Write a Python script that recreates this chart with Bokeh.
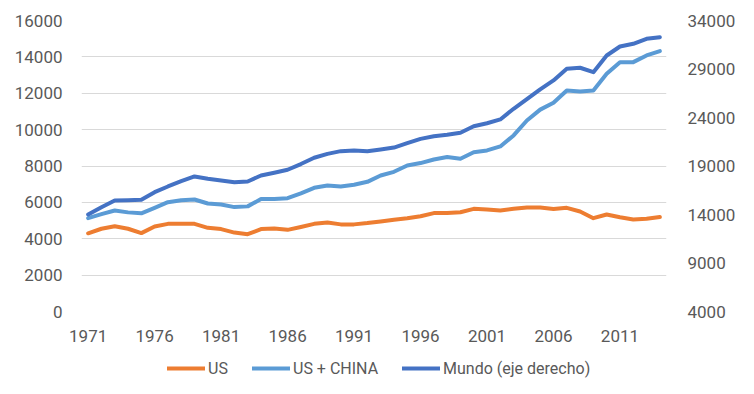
from bokeh.plotting import figure
from bokeh.layouts import column
from bokeh.models import Range1d, LinearAxis, FixedTicker, Legend, LegendItem
from bokeh.embed import file_html
from bokeh.resources import INLINE

years = list(range(1971, 2015))

us = [4300, 4550, 4690, 4550, 4310, 4670, 4820, 4820, 4820, 4600,
      4530, 4340, 4250, 4530, 4560, 4490, 4650, 4820, 4890, 4790,
      4790, 4860, 4950, 5050, 5130, 5240, 5410, 5410, 5460, 5645,
      5610, 5555, 5645, 5720, 5720, 5640, 5700, 5500, 5130, 5335,
      5180, 5060, 5100, 5190]

us_china = [5130, 5350, 5555, 5450, 5400, 5700, 6010, 6120, 6160, 5940,
            5885, 5740, 5780, 6180, 6180, 6230, 6500, 6800, 6930, 6875,
            6965, 7130, 7480, 7680, 8030, 8160, 8360, 8490, 8400, 8760,
            8855, 9075, 9680, 10500, 11100, 11480, 12155, 12100, 12155, 13070,
            13710, 13710, 14080, 14320]

mundo = [14000, 14750, 15440, 15470, 15520, 16300, 16890, 17430, 17920, 17680,
         17500, 17330, 17400, 18020, 18300, 18610, 19200, 19850, 20250, 20530,
         20600, 20530, 20700, 20900, 21350, 21800, 22070, 22220, 22420, 23100,
         23410, 23800, 24900, 25900, 26900, 27820, 29020, 29130, 28670, 30390,
         31320, 31600, 32110, 32280]

x_ticks = [1971, 1976, 1981, 1986, 1991, 1996, 2001, 2006, 2011]
left_ticks = list(range(0, 16001, 2000))
right_ticks = list(range(4000, 34001, 5000))

labels = ["US", "US + CHINA", "Mundo (eje derecho)"]
colors = ["#ED7D31", "#5B9BD5", "#4472C4"]

FONT = "Roboto"
TXT = "#595959"
FS = "17px"

p = figure(width=738, height=345, output_backend="svg", toolbar_location=None,
           x_range=Range1d(1970.5, 2014.5), y_range=Range1d(0, 16000),
           min_border_left=81, min_border_right=58, min_border_top=20,
           min_border_bottom=34)
p.outline_line_color = None
p.background_fill_color = "white"
p.border_fill_color = "white"
p.extra_y_ranges = {"right": Range1d(4000, 34000)}

p.xgrid.grid_line_color = None
p.ygrid.grid_line_color = "#D9D9D9"
p.ygrid.grid_line_width = 1.2
p.ygrid.ticker = FixedTicker(ticks=left_ticks)

def style(ax, standoff):
    ax.axis_line_color = None
    ax.major_tick_line_color = None
    ax.minor_tick_line_color = None
    ax.major_label_text_font = FONT
    ax.major_label_text_font_size = FS
    ax.major_label_text_color = TXT
    ax.major_label_standoff = standoff

p.xaxis.ticker = FixedTicker(ticks=x_ticks)
style(p.xaxis[0], 12)
p.yaxis.ticker = FixedTicker(ticks=left_ticks)
style(p.yaxis[0], 13)

ra = LinearAxis(y_range_name="right", ticker=FixedTicker(ticks=right_ticks))
style(ra, 15)
p.add_layout(ra, "right")

line_kw = dict(line_width=4, line_join="round", line_cap="round")
p.line(years, us, line_color=colors[0], **line_kw)
p.line(years, us_china, line_color=colors[1], **line_kw)
p.line(years, mundo, line_color=colors[2], y_range_name="right", **line_kw)

# legend strip below the chart (its series lines lie outside its own view)
lf = figure(width=738, height=40, output_backend="svg", toolbar_location=None,
            x_range=Range1d(0, 1), y_range=Range1d(0, 1),
            x_axis_type=None, y_axis_type=None,
            min_border_left=0, min_border_right=0, min_border_top=0, min_border_bottom=0)
lf.outline_line_color = None
lf.xgrid.grid_line_color = None
lf.ygrid.grid_line_color = None
lr1 = lf.line(years, us, line_color=colors[0], **line_kw)
lr2 = lf.line(years, us_china, line_color=colors[1], **line_kw)
lr3 = lf.line(years, mundo, line_color=colors[2], **line_kw)

legend = Legend(items=[LegendItem(label=labels[0], renderers=[lr1]),
                       LegendItem(label=labels[1], renderers=[lr2]),
                       LegendItem(label=labels[2], renderers=[lr3])],
                orientation="horizontal", location=(86, 7),
                glyph_width=38, glyph_height=20, label_standoff=3, spacing=24,
                padding=0, margin=0, border_line_color=None,
                background_fill_alpha=0,
                label_text_font=FONT, label_text_font_size="16px",
                label_text_color=TXT)
lf.add_layout(legend, "center")

layout = column(p, lf, spacing=0)
open("out.html", "w").write(file_html(layout, INLINE))
